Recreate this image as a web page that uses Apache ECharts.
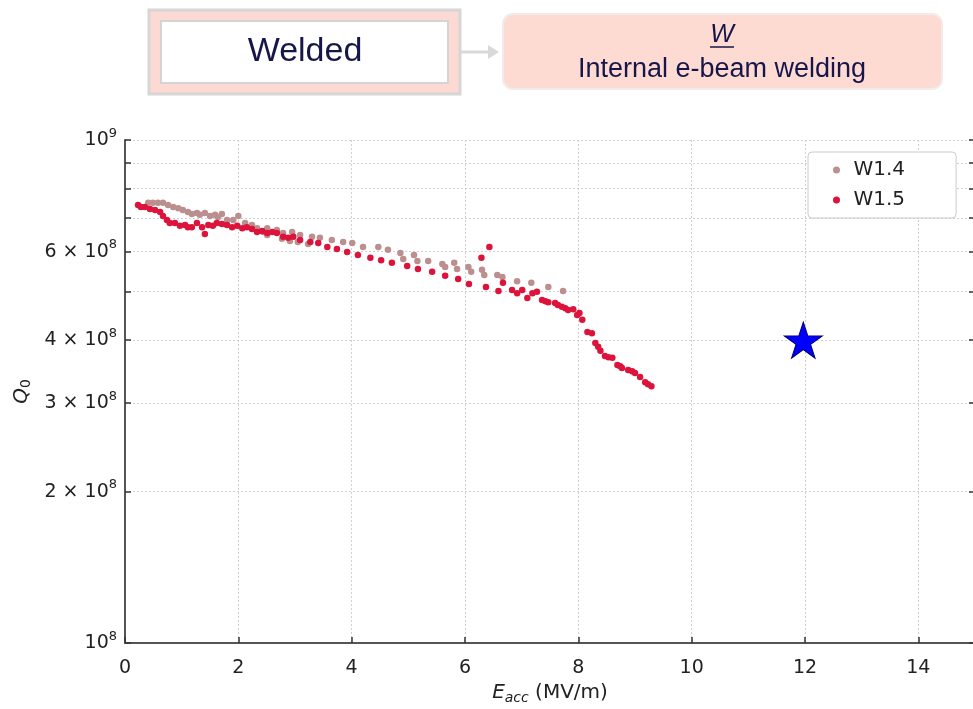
<!DOCTYPE html>
<html>
<head>
<meta charset="utf-8">
<script src="https://cdn.jsdelivr.net/npm/echarts@6/dist/echarts.min.js"></script>
<style>
html,body{margin:0;padding:0;background:#fff;}
#chart{width:973px;height:709px;}
</style>
</head>
<body>
<div id="chart"></div>
<script>
// ---- data ----
const W14_E = [0.41,0.49,0.58,0.67,0.76,0.85,0.94,1.02,1.11,1.18,1.27,1.32,1.41,1.50,1.59,1.64,1.71,1.80,1.91,2.00,2.12,2.24,2.33,2.44,2.51,2.51,2.68,2.77,2.79,2.91,2.95,3.05,3.09,3.23,3.30,3.44,3.65,3.85,4.01,4.20,4.47,4.64,4.86,4.91,5.10,5.16,5.35,5.60,5.65,5.81,5.86,6.06,6.11,6.30,6.34,6.57,6.66,6.92,7.17,7.47,7.73];
const W14_Q = [7.50e8,7.50e8,7.50e8,7.50e8,7.43e8,7.36e8,7.32e8,7.26e8,7.19e8,7.13e8,7.16e8,7.10e8,7.16e8,7.06e8,7.10e8,7.03e8,7.13e8,6.93e8,6.93e8,7.06e8,6.84e8,6.78e8,6.68e8,6.56e8,6.68e8,6.47e8,6.62e8,6.36e8,6.53e8,6.30e8,6.56e8,6.27e8,6.47e8,6.21e8,6.42e8,6.39e8,6.33e8,6.27e8,6.24e8,6.13e8,6.13e8,6.05e8,5.96e8,5.80e8,5.91e8,5.75e8,5.75e8,5.67e8,5.59e8,5.70e8,5.54e8,5.59e8,5.47e8,5.52e8,5.39e8,5.39e8,5.34e8,5.24e8,5.20e8,5.10e8,5.01e8];

const W15_E = [0.23,0.28,0.35,0.44,0.53,0.62,0.67,0.74,0.79,0.88,0.97,1.06,1.11,1.18,1.27,1.36,1.41,1.47,1.55,1.62,1.71,1.80,1.89,1.98,2.07,2.15,2.24,2.33,2.42,2.51,2.60,2.68,2.79,2.88,2.97,3.09,3.27,3.41,3.57,3.74,3.92,4.11,4.33,4.52,4.71,4.98,5.17,5.42,5.65,5.88,6.07,6.29,6.37,6.43,6.59,6.67,6.83,6.92,7.01,7.10,7.19,7.27,7.36,7.42,7.47,7.59,7.64,7.71,7.77,7.82,7.91,7.98,8.02,8.07,8.16,8.24,8.30,8.35,8.39,8.47,8.53,8.60,8.69,8.74,8.77,8.88,8.95,9.00,9.09,9.18,9.23,9.29];
const W15_Q = [7.43e8,7.36e8,7.36e8,7.29e8,7.26e8,7.19e8,7.06e8,6.93e8,6.84e8,6.84e8,6.75e8,6.78e8,6.71e8,6.71e8,6.84e8,6.71e8,6.50e8,6.78e8,6.75e8,6.84e8,6.81e8,6.78e8,6.71e8,6.75e8,6.68e8,6.71e8,6.65e8,6.56e8,6.59e8,6.53e8,6.56e8,6.53e8,6.42e8,6.39e8,6.42e8,6.33e8,6.27e8,6.24e8,6.13e8,6.07e8,5.99e8,5.91e8,5.83e8,5.77e8,5.70e8,5.62e8,5.54e8,5.47e8,5.37e8,5.29e8,5.17e8,5.83e8,5.10e8,6.13e8,5.01e8,5.20e8,5.03e8,4.96e8,5.03e8,4.85e8,4.96e8,4.99e8,4.81e8,4.78e8,4.76e8,4.74e8,4.70e8,4.66e8,4.63e8,4.59e8,4.61e8,4.49e8,4.53e8,4.39e8,4.15e8,4.13e8,3.95e8,3.88e8,3.81e8,3.72e8,3.70e8,3.69e8,3.57e8,3.55e8,3.52e8,3.49e8,3.47e8,3.44e8,3.38e8,3.30e8,3.27e8,3.24e8];

const STAR_E = [11.97];
const STAR_Q = [4.0e8];

const X_TICKS = [0,2,4,6,8,10,12,14];
const Y_TICKS = [1e8,2e8,3e8,4e8,5e8,6e8,7e8,8e8,9e8,1e9];
const Y_LABELS = [1e8,2e8,3e8,4e8,6e8,1e9];

const SERIES_NAMES = ['W1.4','W1.5'];
const HEADER_LEFT = 'Welded';
const HEADER_RIGHT_TOP = 'W';
const HEADER_RIGHT = 'Internal e-beam welding';

// ---- chart ----
const zip = (a,b) => a.map((v,i)=>[v,b[i]]);
const FONT = 'DejaVu Sans';
const chart = echarts.init(document.getElementById('chart'), null, {renderer:'canvas'});

const yFmt = v => {
  const m = Math.round(v/1e8);
  if (m === 1) return '{b|10}{s|8}';
  if (m === 10) return '{b|10}{s|9}';
  return '{b|' + m + ' × 10}{s|8}';
};

const starPath = 'path://M50,0 L61.2,34.5 L97.6,34.5 L68.2,55.9 L79.4,90.5 L50,69.1 L20.6,90.5 L31.8,55.9 L2.4,34.5 L38.8,34.5 Z';

const option = {
  backgroundColor:'#ffffff',
  animation:false,
  grid:{left:125, top:140, right:-2, bottom:66, outerBoundsMode:'none', containLabel:false},
  legend:{
    orient:'vertical',
    left:808, top:152,
    data:SERIES_NAMES,
    icon:'circle',
    itemWidth:24, itemHeight:7, itemGap:10, itemTextGap:20,
    padding:[8,51,8,25],
    backgroundColor:'#ffffff',
    borderColor:'#cccccc', borderWidth:1, borderRadius:4,
    textStyle:{fontFamily:FONT, fontSize:20, color:'#222222'}
  },
  xAxis:{
    type:'value', min:0, max:15, interval:2,
    axisLine:{show:true, lineStyle:{color:'#555555', width:2}},
    axisTick:{show:true, inside:true, length:6, customValues:X_TICKS, lineStyle:{color:'#333333', width:1.5}},
    axisLabel:{customValues:X_TICKS, margin:16, fontFamily:FONT, fontSize:19, color:'#222222'},
    splitLine:{show:true, lineStyle:{color:'#cfcfcf', type:[2,2], width:1}},
    name:'{i|E}{sub|acc}{n| (MV/m)}',
    nameLocation:'middle', nameGap:38,
    nameTextStyle:{
      rich:{
        i:{fontFamily:FONT, fontStyle:'italic', fontSize:20, color:'#222'},
        sub:{fontFamily:FONT, fontStyle:'italic', fontSize:14, color:'#222', padding:[10,0,0,0]},
        n:{fontFamily:FONT, fontSize:20, color:'#222'}
      }
    }
  },
  yAxis:[{
    type:'log', logBase:10, min:1e8, max:1e9,
    axisLine:{show:true, lineStyle:{color:'#555555', width:2}},
    axisTick:{show:true, inside:true, length:6, customValues:Y_TICKS, lineStyle:{color:'#333333', width:1.5}},
    axisLabel:{customValues:Y_LABELS, margin:8, formatter:yFmt,
      rich:{
        b:{fontFamily:FONT, fontSize:19, color:'#222222'},
        s:{fontFamily:FONT, fontSize:13, color:'#222222', padding:[0,0,13,0]}
      }
    },
    splitLine:{show:false},
    name:'{i|Q}{sub|0}',
    nameLocation:'middle', nameGap:68, nameRotate:90,
    nameTextStyle:{
      rich:{
        i:{fontFamily:FONT, fontStyle:'italic', fontSize:20, color:'#222'},
        sub:{fontFamily:FONT, fontSize:14, color:'#222', padding:[10,0,0,0]}
      }
    }
  },{
    type:'log', logBase:10, min:1e8, max:1e9, position:'right',
    axisLine:{show:false},
    axisTick:{show:true, inside:true, length:6, customValues:Y_TICKS, lineStyle:{color:'#333333', width:1.5}},
    axisLabel:{show:false},
    splitLine:{show:true, lineStyle:{color:'#cfcfcf', type:[2,2], width:1}}
  }],
  graphic:[
    {type:'rect', shape:{x:149, y:10, width:311, height:84}, style:{fill:'#fcd9d2', stroke:'#d6d6d6', lineWidth:3}, silent:true},
    {type:'rect', shape:{x:161, y:21, width:287, height:62}, style:{fill:'#ffffff', stroke:'#d4d4d4', lineWidth:2}, silent:true},
    {type:'text', x:305, y:52, style:{text:HEADER_LEFT, fontFamily:'Liberation Sans', fontSize:34, fill:'#16164a', align:'center', verticalAlign:'middle'}, silent:true},
    {type:'line', shape:{x1:461, y1:52, x2:490, y2:52}, style:{stroke:'#d9d9d9', lineWidth:3}, silent:true},
    {type:'polygon', shape:{points:[[488,45],[499,52],[488,59]]}, style:{fill:'#d9d9d9'}, silent:true},
    {type:'rect', shape:{x:503, y:14, width:439, height:75, r:10}, style:{fill:'#fddbd3', stroke:'#f1ebea', lineWidth:2}, silent:true},
    {type:'text', x:722, y:35, style:{text:HEADER_RIGHT_TOP, fontFamily:'Liberation Sans', fontStyle:'italic', fontSize:25, fill:'#16164a', align:'center', verticalAlign:'middle'}, silent:true},
    {type:'line', shape:{x1:710, y1:47, x2:734, y2:47}, style:{stroke:'#16164a', lineWidth:1.5}, silent:true},
    {type:'text', x:722, y:70, style:{text:HEADER_RIGHT, fontFamily:'Liberation Sans', fontSize:27, fill:'#16164a', align:'center', verticalAlign:'middle'}, silent:true}
  ],
  series:[
    {name:'W1.4', type:'scatter', data:zip(W14_E,W14_Q), symbol:'circle', symbolSize:6.5,
     itemStyle:{color:'#bc8f8f', opacity:1}, z:3},
    {name:'W1.5', type:'scatter', data:zip(W15_E,W15_Q), symbol:'circle', symbolSize:6.5,
     itemStyle:{color:'#dc143c', opacity:1}, z:4},
    {name:'star', type:'scatter', data:zip(STAR_E,STAR_Q), symbol:starPath, symbolSize:[38,36],
     itemStyle:{color:'#0000ff', borderColor:'#00006a', borderWidth:1, opacity:1}, z:5}
  ]
};
chart.setOption(option);
</script>
</body>
</html>
